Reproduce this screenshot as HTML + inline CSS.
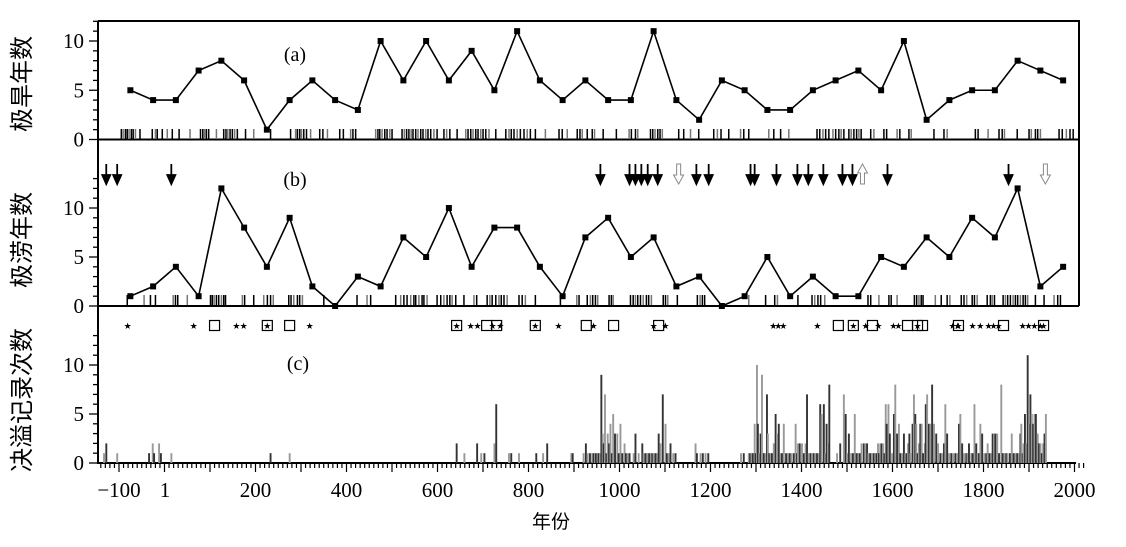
<!DOCTYPE html>
<html><head><meta charset="utf-8"><style>
html,body{margin:0;padding:0;background:#fff;}
svg{display:block;}
text{font-family:"Liberation Serif","Noto Serif CJK SC",serif;fill:#000;}
.cjk{font-family:"Liberation Serif","Noto Sans CJK SC",sans-serif;}
</style></head><body>
<svg id="chart" width="1126" height="547" viewBox="0 0 1126 547" xmlns="http://www.w3.org/2000/svg">
<g id="axes"></g>
<g id="marks"></g>
<text x="295" y="61" font-size="20" text-anchor="middle">(a)</text>
<text x="295" y="186" font-size="20" text-anchor="middle">(b)</text>
<text x="298" y="370" font-size="20" text-anchor="middle">(c)</text>
<text class="cjk" transform="translate(30,84) rotate(-90)" font-size="24" text-anchor="middle">极旱年数</text>
<text class="cjk" transform="translate(30,240) rotate(-90)" font-size="24" text-anchor="middle">极涝年数</text>
<text class="cjk" transform="translate(30,400) rotate(-90)" font-size="24" text-anchor="middle">决溢记录次数</text>
<text class="cjk" x="551" y="528" font-size="19" text-anchor="middle">年份</text>
</svg>
<script>
const binYears=[-75,-25,25,75,125,175,225,275,325,375,425,475,525,575,625,675,725,775,825,875,925,975,1025,1075,1125,1175,1225,1275,1325,1375,1425,1475,1525,1575,1625,1675,1725,1775,1825,1875,1925,1975];
const droughtCounts=[5,4,4,7,8,6,1,4,6,4,3,10,6,10,6,9,5,11,6,4,6,4,4,11,4,2,6,5,3,3,5,6,7,5,10,2,4,5,5,8,7,6];
const floodCounts=[1,2,4,1,12,8,4,9,2,0,3,2,7,5,10,4,8,8,4,1,7,9,5,7,2,3,0,1,5,1,3,1,1,5,4,7,5,9,7,12,2,4];
const droughtRug=[-95,-91,-86,-82,-78,-73,-69,-64,-54,-27,-20,-16,-5,6,17,32,56,79,84,88,92,97,114,130,135,139,144,149,154,160,178,196,233,277,288,292,297,301,306,312,321,341,348,358,385,393,409,414,420,464,469,473,478,484,489,495,500,522,527,532,537,542,546,552,557,563,568,574,579,585,592,599,614,620,627,643,662,667,673,678,684,689,695,700,706,713,728,750,757,762,768,775,782,790,797,804,815,837,867,874,885,907,913,918,929,940,945,964,993,1021,1026,1035,1040,1068,1073,1078,1084,1089,1094,1130,1141,1156,1174,1207,1215,1223,1240,1266,1273,1284,1328,1339,1354,1372,1434,1440,1447,1453,1460,1469,1475,1482,1487,1493,1504,1509,1515,1521,1526,1531,1552,1559,1581,1587,1610,1616,1636,1641,1691,1713,1720,1782,1788,1810,1834,1841,1846,1874,1900,1905,1914,1919,1925,1966,1973,1982,1990,1997];
const floodRug=[-82,-45,-31,-20,19,24,29,50,101,105,109,114,119,125,130,134,171,176,196,218,226,233,239,273,278,284,292,297,303,350,423,445,453,508,519,526,533,541,548,552,559,566,570,577,599,607,614,621,627,632,640,658,680,686,709,715,720,728,735,740,746,753,779,786,793,815,870,906,911,929,936,941,947,952,977,982,986,1024,1030,1035,1040,1046,1052,1059,1064,1070,1096,1101,1106,1127,1171,1177,1182,1187,1284,1321,1341,1347,1392,1423,1429,1436,1442,1451,1546,1552,1570,1592,1597,1610,1648,1653,1658,1663,1667,1694,1707,1720,1726,1751,1757,1763,1775,1780,1786,1808,1815,1819,1824,1843,1848,1853,1859,1865,1870,1875,1881,1887,1892,1897,1914,1933,1955,1963,1969];
const breachYears=[-133,-128,-104,-34,-26,-23,-12,-8,15,233,275,642,659,687,696,703,725,729,757,762,779,817,832,841,894,897,921,926,930,935,940,943,946,948,952,954,957,960,963,965,968,971,974,977,980,983,986,990,995,998,1002,1006,1011,1014,1018,1022,1031,1035,1042,1050,1053,1057,1061,1065,1069,1072,1075,1079,1083,1086,1090,1095,1101,1104,1108,1112,1118,1123,1167,1170,1178,1183,1189,1195,1267,1273,1284,1287,1290,1293,1297,1299,1302,1304,1307,1310,1313,1317,1321,1324,1326,1329,1332,1335,1339,1343,1346,1350,1354,1357,1361,1366,1370,1374,1378,1383,1387,1390,1392,1396,1401,1405,1409,1412,1416,1420,1423,1427,1430,1434,1438,1441,1444,1449,1452,1455,1458,1461,1478,1485,1493,1497,1500,1504,1509,1513,1517,1521,1525,1528,1532,1537,1540,1544,1547,1551,1555,1559,1562,1565,1568,1570,1573,1576,1579,1582,1585,1587,1591,1594,1599,1603,1606,1610,1614,1617,1621,1625,1628,1631,1634,1637,1639,1644,1647,1650,1652,1655,1658,1661,1664,1667,1671,1673,1676,1680,1683,1687,1691,1696,1700,1705,1709,1713,1716,1720,1724,1729,1733,1738,1742,1746,1749,1753,1757,1762,1765,1768,1773,1776,1780,1784,1787,1790,1793,1797,1802,1806,1809,1813,1817,1820,1823,1826,1830,1834,1839,1842,1846,1850,1853,1858,1862,1866,1870,1874,1878,1881,1883,1886,1888,1891,1894,1897,1900,1903,1906,1909,1912,1915,1919,1922,1925,1928,1931,1934,1937];
const breachCounts=[1,2,1,1,2,1,2,1,1,1,1,2,1,2,1,1,2,6,1,1,1,1,1,2,1,1,1,2,1,1,1,1,1,1,1,1,1,9,3,2,7,1,3,2,4,1,5,3,3,1,4,1,2,1,1,1,1,3,1,2,1,1,1,1,1,1,1,1,1,3,2,7,4,1,1,2,1,1,2,1,1,1,1,1,1,1,1,1,1,1,4,1,10,4,1,3,9,1,1,7,3,1,1,1,2,5,3,4,1,1,4,1,1,1,1,1,4,1,2,2,2,1,2,7,1,1,1,1,1,1,1,6,5,6,1,4,2,8,1,2,7,5,1,3,1,1,5,1,1,1,2,2,2,2,1,1,1,1,1,1,2,1,2,2,2,1,6,4,6,3,1,5,8,3,4,1,1,3,1,1,2,3,1,4,7,5,4,1,2,4,4,1,2,6,7,4,4,8,4,3,2,1,1,2,6,3,1,1,1,1,1,4,5,2,1,1,1,2,1,1,6,2,1,1,4,3,1,1,2,1,1,3,3,3,3,1,8,1,1,1,1,1,3,1,1,1,1,3,4,1,2,5,2,11,4,7,5,4,5,5,3,2,2,1,2,3,5,4,3,8,2,1];
const starYears=[-81,64,158,174,226,319,642,673,688,721,738,815,866,943,1075,1101,1338,1349,1360,1435,1514,1541,1569,1602,1613,1655,1732,1743,1745,1776,1793,1811,1822,1833,1886,1899,1912,1925,1932];
const squareYears=[110,226,275,642,708,730,815,927,987,1086,1481,1514,1556,1633,1655,1666,1745,1844,1932];
const arrowDownYears=[-128,-104,15,958,1022,1035,1048,1062,1084,1169,1196,1288,1297,1345,1391,1415,1448,1490,1512,1589,1855];
const arrowHollowDownYears=[1130,1936];
const arrowHollowUpYears=[1534];
const xTickLabels=["-100","1","200","400","600","800","1000","1200","1400","1600","1800","2000"];
const xTickYears=[-100,1,200,400,600,800,1000,1200,1400,1600,1800,2000];
const yTickLabels=["0","5","10"];

const NS="http://www.w3.org/2000/svg";
const axes=document.getElementById('axes'), marks=document.getElementById('marks');
const X0=98, XR=1079;
function x(yr){return 164.5+0.455*yr;}
const yA=v=>139.5-9.85*v, yB=v=>306-9.8*v, yC=v=>463-9.8*v;
function el(tag,attrs,parent){const e=document.createElementNS(NS,tag);for(const k in attrs)e.setAttribute(k,attrs[k]);parent.appendChild(e);return e;}

let f=el('path',{d:`M${X0},21 H${XR} V306 M${X0},21 V463 H${XR-3} M${X0},139.5 H${XR} M${X0},306 H${XR}`,stroke:'#000','stroke-width':2,fill:'none'},axes);


[[yA,12],[yB,13],[yC,13]].forEach(([fy,mx])=>{
  for(let v=0;v<=mx;v++){
    const major=v%5===0;
    const t=el('line',{x1:X0-(major?9:5),x2:X0,y1:fy(v),y2:fy(v),stroke:'#000','stroke-width':1.3},axes);
    
    
  }
  yTickLabels.forEach(s=>{
    const t=el('text',{x:84,y:fy(+s)+7,'font-size':21,'text-anchor':'end'},axes);
    t.textContent=s;
    
    
  });
});
for(let yr=-140;yr<=2020;yr+=10){
  const major=(yr%100===0);
  const t=el('line',{x1:x(yr),x2:x(yr),y1:463,y2:463+(major?9:5),stroke:'#000','stroke-width':1.2},axes);
  
  
}
xTickLabels.forEach((s,i)=>{
  const t=el('text',{x:x(xTickYears[i]),y:497,'font-size':21,'text-anchor':'middle'},axes);
  t.textContent=s.replace('-','\u2212');
  
  
});
function series(vals,fy,name){
  const p=el('polyline',{points:vals.map((v,i)=>x(binYears[i])+','+fy(v)).join(' '),fill:'none',stroke:'#000','stroke-width':1.6},marks);
  
  
  vals.forEach((v,i)=>{
    const r=el('rect',{x:x(binYears[i])-3,y:fy(v)-3,width:6,height:6,fill:'#000'},marks);
    
    
  });
}
series(droughtCounts,yA,'drought');
series(floodCounts,yB,'flood');
function rug(arr,base,name){
  arr.forEach((yr,i)=>{
    const r=el('rect',{x:x(yr)-0.7,y:base-10,width:1.5,height:10,fill:i%3===1?'#777':'#000'},marks);
    
    
  });
}
rug(droughtRug,139,'drought-event-tick');
rug(floodRug,305,'flood-event-tick');
breachYears.forEach((yr,i)=>{
  const v=breachCounts[i];
  const b=el('rect',{x:x(yr)-0.9,y:yC(v),width:1.9,height:463-yC(v),fill:i%2?'#333':'#999'},marks);
  
  
});
squareYears.forEach(yr=>{
  const s=el('rect',{x:x(yr)-5,y:320.5,width:10,height:10,fill:'none',stroke:'#000','stroke-width':1.2},marks);
  
  
});
starYears.forEach(yr=>{
  const s=el('text',{x:x(yr),y:329,'font-size':9,'text-anchor':'middle',style:'font-family:"DejaVu Sans",sans-serif'},marks);
  s.textContent='\u2605';
  
  
});
function arrow(yr,kind){
  const cx=x(yr);let g;
  if(kind==='down'){
    g=el('path',{d:`M${cx},164 V176 M${cx-4},175 L${cx+4},175 L${cx},184 Z`,stroke:'#000','stroke-width':1.8,fill:'#000'},marks);
  }else if(kind==='hdown'){
    g=el('path',{d:`M${cx-2},164 V175 H${cx-5} L${cx},184 L${cx+5},175 H${cx+2} V164 Z`,stroke:'#888','stroke-width':1,fill:'#fff'},marks);
  }else{
    g=el('path',{d:`M${cx-2},184 V173 H${cx-5} L${cx},164 L${cx+5},173 H${cx+2} V184 Z`,stroke:'#888','stroke-width':1,fill:'#fff'},marks);
  }
  
  
}
arrowDownYears.forEach(y=>arrow(y,'down'));
arrowHollowDownYears.forEach(y=>arrow(y,'hdown'));
arrowHollowUpYears.forEach(y=>arrow(y,'hup'));
</script>
</body></html>
